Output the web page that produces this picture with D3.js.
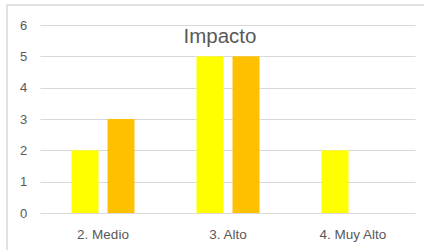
<!DOCTYPE html>
<html><head><meta charset="utf-8">
<script src="https://cdn.jsdelivr.net/npm/d3@7"></script>
<style>body{margin:0;background:#fff;}svg{display:block;}</style>
</head><body>
<script>
const categories = ["2. Medio", "3. Alto", "4. Muy Alto"];
const seriesNames = ["Serie1", "Serie2"];
const serie1 = [2, 5, 2];
const serie2 = [3, 5, 0];
const yTicks = [0, 1, 2, 3, 4, 5, 6];
const title = "Impacto";
const colors = ["#FFFF00", "#FFC000"];

(function () {
const W = 424, H = 250;
const svg = d3.select("body").append("svg").attr("width", W).attr("height", H);
svg.append("rect").attr("x", 7).attr("y", 5).attr("width", W).attr("height", H)
  .attr("fill", "#fff").attr("stroke", "#d9d9d9").attr("stroke-width", 1.5);

const pl = 40.5, pr = 415.5, pt = 25, pb = 213;
const x = d3.scaleBand().domain(categories).range([pl, pr]).paddingInner(0).paddingOuter(0);
const y = d3.scaleLinear().domain([0, 6]).range([pb, pt]);
const groupW = 63;
const xs = d3.scaleBand().domain(seriesNames).range([0, groupW]).paddingInner(0.25);

svg.append("g").selectAll("line").data(yTicks).join("line")
  .attr("x1", pl).attr("x2", pr)
  .attr("y1", d => Math.round(y(d)) + 0.5).attr("y2", d => Math.round(y(d)) + 0.5)
  .attr("stroke", "#d9d9d9").attr("stroke-width", 1);

svg.append("g").selectAll("text").data(yTicks).join("text")
  .attr("x", 23.5).attr("y", d => y(d)).attr("dy", "0.35em")
  .attr("text-anchor", "middle")
  .attr("font-family", "'Liberation Sans', Arial, sans-serif").attr("font-size", 13)
  .attr("fill", "#595959").text(d => d);

const data = categories.map((c, i) => ({c, vals: [serie1[i], serie2[i]]}));
const g = svg.append("g").selectAll("g").data(data).join("g")
  .attr("transform", d => `translate(${x(d.c) + x.bandwidth()/2 - groupW/2},0)`);
g.selectAll("rect").data(d => d.vals.map((v, j) => ({v, s: seriesNames[j], j}))).join("rect")
  .attr("x", d => xs(d.s)).attr("width", xs.bandwidth())
  .attr("y", d => y(d.v)).attr("height", d => y(0) - y(d.v))
  .attr("fill", d => colors[d.j]);

svg.append("g").selectAll("text").data(categories).join("text")
  .attr("x", d => x(d) + x.bandwidth()/2).attr("y", 238.5)
  .attr("text-anchor", "middle")
  .attr("font-family", "'Liberation Sans', Arial, sans-serif").attr("font-size", 13.5)
  .attr("fill", "#595959").text(d => d);

svg.append("text").attr("x", 220).attr("y", 42.5).attr("text-anchor", "middle")
  .attr("font-family", "'Liberation Sans', Arial, sans-serif").attr("font-size", 20.5)
  .attr("fill", "#595959").text(title);
})();
</script>
</body></html>
